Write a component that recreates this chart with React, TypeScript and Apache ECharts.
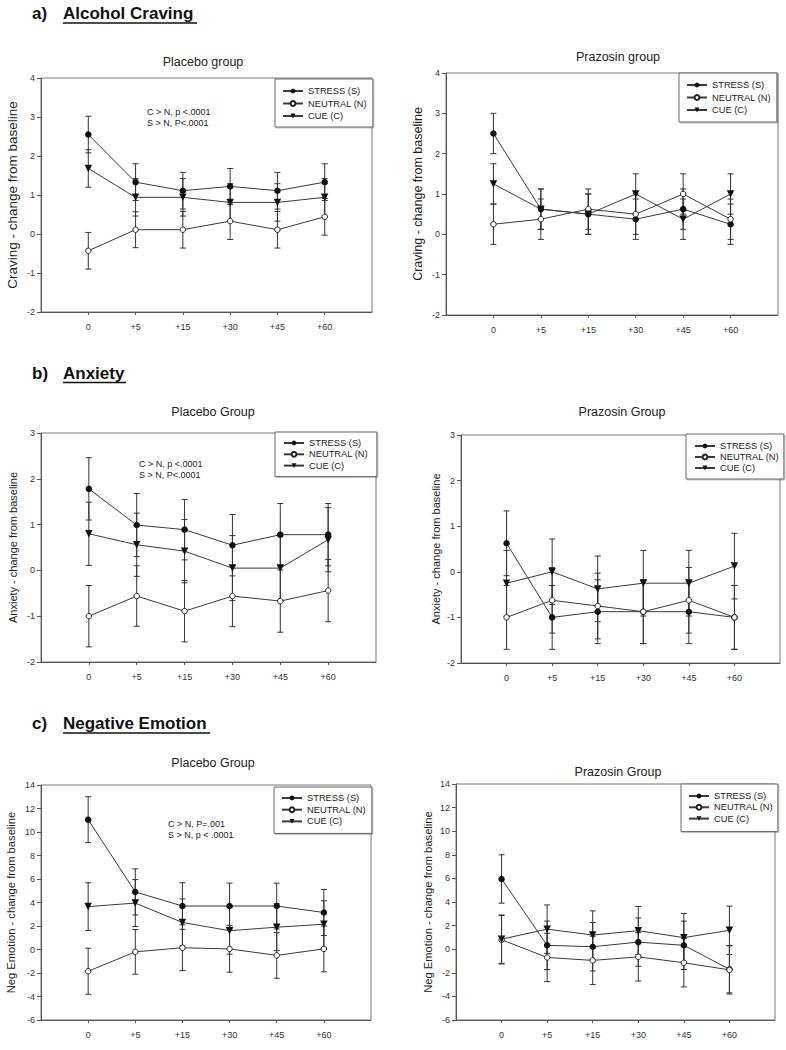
import { useEffect, useRef } from 'react';
import * as echarts from 'echarts';

// ---------- data ----------
const timepoints = ['0', '+5', '+15', '+30', '+45', '+60'];
const seriesNames = ['STRESS (S)', 'NEUTRAL (N)', 'CUE (C)'];

// a) Alcohol craving
const cravingPlaceboStress = [2.55, 1.33, 1.11, 1.22, 1.11, 1.33];
const cravingPlaceboNeutral = [-0.43, 0.11, 0.11, 0.33, 0.11, 0.44];
const cravingPlaceboCue = [1.68, 0.94, 0.94, 0.81, 0.81, 0.94];
const cravingPlaceboStressErr = [0.47, 0.47, 0.47, 0.46, 0.47, 0.47];
const cravingPlaceboNeutralErr = [0.47, 0.46, 0.47, 0.47, 0.47, 0.47];
const cravingPlaceboCueErr = [0.48, 0.48, 0.48, 0.48, 0.48, 0.48];

const cravingPrazosinStress = [2.5, 0.625, 0.5, 0.375, 0.625, 0.25];
const cravingPrazosinNeutral = [0.25, 0.375, 0.625, 0.5, 1.0, 0.375];
const cravingPrazosinCue = [1.25, 0.625, 0.5, 1.0, 0.375, 1.0];
const cravingPrazosinStressErr = [0.5, 0.5, 0.5, 0.5, 0.5, 0.5];
const cravingPrazosinNeutralErr = [0.5, 0.5, 0.5, 0.5, 0.5, 0.5];
const cravingPrazosinCueErr = [0.5, 0.5, 0.5, 0.5, 0.5, 0.5];

// b) Anxiety
const anxietyPlaceboStress = [1.78, 0.99, 0.89, 0.55, 0.78, 0.78];
const anxietyPlaceboNeutral = [-1.0, -0.56, -0.89, -0.56, -0.67, -0.44];
const anxietyPlaceboCue = [0.8, 0.56, 0.42, 0.05, 0.05, 0.67];
const anxietyPlaceboStressErr = [0.68, 0.69, 0.66, 0.67, 0.68, 0.68];
const anxietyPlaceboNeutralErr = [0.67, 0.66, 0.67, 0.67, 0.68, 0.68];
const anxietyPlaceboCueErr = [0.69, 0.69, 0.69, 0.71, 0.7, 0.7];

const anxietyPrazosinStress = [0.625, -1.0, -0.875, -0.875, -0.875, -1.0];
const anxietyPrazosinNeutral = [-1.0, -0.625, -0.75, -0.875, -0.625, -1.0];
const anxietyPrazosinCue = [-0.25, 0.0, -0.375, -0.25, -0.25, 0.125];
const anxietyPrazosinStressErr = [0.71, 0.7, 0.7, 0.7, 0.7, 0.7];
const anxietyPrazosinNeutralErr = [0.7, 0.72, 0.72, 0.7, 0.72, 0.7];
const anxietyPrazosinCueErr = [0.72, 0.72, 0.72, 0.72, 0.72, 0.72];

// c) Negative emotion
const negPlaceboStress = [11.05, 4.9, 3.7, 3.7, 3.7, 3.15];
const negPlaceboNeutral = [-1.85, -0.2, 0.15, 0.05, -0.5, 0.05];
const negPlaceboCue = [3.65, 3.95, 2.3, 1.6, 1.9, 2.15];
const negPlaceboStressErr = [1.95, 1.96, 1.98, 1.95, 1.95, 1.96];
const negPlaceboNeutralErr = [1.96, 1.9, 1.95, 1.98, 1.95, 1.95];
const negPlaceboCueErr = [2.03, 2.0, 2.0, 2.0, 2.0, 2.0];

const negPrazosinStress = [5.95, 0.33, 0.21, 0.6, 0.33, -1.7];
const negPrazosinNeutral = [0.8, -0.7, -0.95, -0.65, -1.15, -1.75];
const negPrazosinCue = [0.85, 1.7, 1.2, 1.57, 0.98, 1.6];
const negPrazosinStressErr = [2.05, 2.05, 2.05, 2.05, 2.05, 2.0];
const negPrazosinNeutralErr = [2.05, 2.05, 2.05, 2.05, 2.05, 2.05];
const negPrazosinCueErr = [2.05, 2.05, 2.05, 2.05, 2.05, 2.05];

// y-axis tick ranges
const cravingTicks = { min: -2, max: 4, interval: 1 };
const anxietyTicks = { min: -2, max: 3, interval: 1 };
const negTicks = { min: -6, max: 14, interval: 2 };

// ---------- layout ----------
const FONT = '"Liberation Sans", Arial, Helvetica, sans-serif';
const INK = '#222';
const LINE = '#3a3a3a';

type PanelCfg = {
  grid: { left: number; top: number; width: number; height: number };
  ticks: { min: number; max: number; interval: number };
  yName: string;
  yNameSize: number;
  nameGap: number;
  values: number[][];
  errors: number[][];
  legend: { left: number; top: number; padding: number[]; gap: number };
};

const panels: PanelCfg[] = [
  {
    grid: { left: 41, top: 78, width: 331, height: 234 },
    ticks: cravingTicks,
    yName: 'Craving - change from baseline',
    yNameSize: 13.5,
    nameGap: 22,
    values: [cravingPlaceboStress, cravingPlaceboNeutral, cravingPlaceboCue],
    errors: [cravingPlaceboStressErr, cravingPlaceboNeutralErr, cravingPlaceboCueErr],
    legend: { left: 275, top: 79, padding: [7, 6, 6, 7], gap: 2.5 },
  },
  {
    grid: { left: 446, top: 73, width: 332, height: 242 },
    ticks: cravingTicks,
    yName: 'Craving - change from baseline',
    yNameSize: 12.5,
    nameGap: 22,
    values: [cravingPrazosinStress, cravingPrazosinNeutral, cravingPrazosinCue],
    errors: [cravingPrazosinStressErr, cravingPrazosinNeutralErr, cravingPrazosinCueErr],
    legend: { left: 679, top: 73, padding: [7, 6, 7, 7], gap: 2.5 },
  },
  {
    grid: { left: 41, top: 433, width: 335, height: 229 },
    ticks: anxietyTicks,
    yName: 'Anxiety - change from baseline',
    yNameSize: 11,
    nameGap: 23,
    values: [anxietyPlaceboStress, anxietyPlaceboNeutral, anxietyPlaceboCue],
    errors: [anxietyPlaceboStressErr, anxietyPlaceboNeutralErr, anxietyPlaceboCueErr],
    legend: { left: 275, top: 432, padding: [6, 9, 6, 8], gap: 1.3 },
  },
  {
    grid: { left: 461, top: 435, width: 319, height: 228 },
    ticks: anxietyTicks,
    yName: 'Anxiety - change from baseline',
    yNameSize: 11,
    nameGap: 20,
    values: [anxietyPrazosinStress, anxietyPrazosinNeutral, anxietyPrazosinCue],
    errors: [anxietyPrazosinStressErr, anxietyPrazosinNeutralErr, anxietyPrazosinCueErr],
    legend: { left: 686, top: 434, padding: [7, 5, 6, 8], gap: 1 },
  },
  {
    grid: { left: 41, top: 785, width: 330, height: 235 },
    ticks: negTicks,
    yName: 'Neg Emotion - change from baseline',
    yNameSize: 11.2,
    nameGap: 24.5,
    values: [negPlaceboStress, negPlaceboNeutral, negPlaceboCue],
    errors: [negPlaceboStressErr, negPlaceboNeutralErr, negPlaceboCueErr],
    legend: { left: 274, top: 787, padding: [6, 6, 7, 7], gap: 1.7 },
  },
  {
    grid: { left: 456, top: 784, width: 319, height: 236 },
    ticks: negTicks,
    yName: 'Neg Emotion - change from baseline',
    yNameSize: 11.2,
    nameGap: 23,
    values: [negPrazosinStress, negPrazosinNeutral, negPrazosinCue],
    errors: [negPrazosinStressErr, negPrazosinNeutralErr, negPrazosinCueErr],
    legend: { left: 681, top: 784, padding: [7, 5, 8, 7], gap: 1.3 },
  },
];

const panelTitles = [
  { text: 'Placebo group', x: 203, y: 62 },
  { text: 'Prazosin group', x: 618, y: 57 },
  { text: 'Placebo Group', x: 213, y: 412 },
  { text: 'Prazosin Group', x: 622, y: 412 },
  { text: 'Placebo Group', x: 213, y: 763 },
  { text: 'Prazosin Group', x: 618, y: 772 },
];

const sections = [
  { label: 'a)', text: 'Alcohol Craving', y: 13, underlineY: 23, underlineEnd: 197 },
  { label: 'b)', text: 'Anxiety', y: 373, underlineY: 382.5, underlineEnd: 126 },
  { label: 'c)', text: 'Negative Emotion', y: 723, underlineY: 733, underlineEnd: 210 },
];

const annotations = [
  { lines: ['C > N, p <.0001', 'S > N, P<.0001'], x: 147, y: 111.5, step: 11 },
  { lines: ['C > N, p <.0001', 'S > N, P<.0001'], x: 139, y: 464, step: 10.5 },
  { lines: ['C > N, P=.001', 'S > N, p < .0001'], x: 168, y: 824, step: 11 },
];

const symbols = [
  { symbol: 'circle', size: 6.5, rotate: 0, fill: '#111', border: '#111', bw: 0 },
  { symbol: 'circle', size: 5.5, rotate: 0, fill: '#fff', border: '#222', bw: 1 },
  { symbol: 'triangle', size: 7.5, rotate: 180, fill: '#111', border: '#111', bw: 0 },
];

function buildOption() {
  const grid: any[] = [];
  const xAxis: any[] = [];
  const yAxis: any[] = [];
  const series: any[] = [];
  const legend: any[] = [];

  panels.forEach((p, pi) => {
    grid.push({
      ...p.grid,
      show: true,
      borderColor: '#777',
      borderWidth: 1,
      backgroundColor: 'transparent',
    });
    xAxis.push({
      type: 'value',
      gridIndex: pi,
      min: -1,
      max: 6,
      interval: 1,
      splitLine: { show: false },
      axisLine: { show: true, onZero: false, lineStyle: { color: '#555', width: 1 } },
      axisTick: { show: true, length: 3, lineStyle: { color: '#555' }, customValues: [0, 1, 2, 3, 4, 5] },
      axisLabel: {
        customValues: [0, 1, 2, 3, 4, 5],
        margin: 10,
        fontSize: 9,
        fontFamily: FONT,
        color: '#333',
        formatter: (v: number) => (v >= 0 && v < timepoints.length ? timepoints[v] : ''),
      },
    });
    yAxis.push({
      type: 'value',
      gridIndex: pi,
      min: p.ticks.min,
      max: p.ticks.max,
      interval: p.ticks.interval,
      name: p.yName,
      nameLocation: 'middle',
      nameRotate: 90,
      nameGap: p.nameGap,
      nameTextStyle: { fontSize: p.yNameSize, fontFamily: FONT, color: INK },
      splitLine: { show: false },
      axisLine: { show: true, onZero: false, lineStyle: { color: '#555', width: 1 } },
      axisTick: { show: true, length: 4, lineStyle: { color: '#555' } },
      axisLabel: { margin: 6, fontSize: 9, fontFamily: FONT, color: '#333' },
    });

    p.values.forEach((vals, si) => {
      const errs = p.errors[si];
      series.push({
        type: 'custom',
        name: 'err-' + pi + '-' + si,
        xAxisIndex: pi,
        yAxisIndex: pi,
        z: 1,
        silent: true,
        encode: { x: 0, y: 1 },
        data: vals.map((v, i) => [i, v, errs[i]]),
        renderItem: (_params: any, api: any) => {
          const x = api.value(0);
          const y = api.value(1);
          const e = api.value(2);
          const hi = api.coord([x, y + e]);
          const lo = api.coord([x, y - e]);
          const cw = 3;
          const st = { stroke: '#333', lineWidth: 1 };
          return {
            type: 'group',
            children: [
              { type: 'line', shape: { x1: hi[0], y1: hi[1], x2: lo[0], y2: lo[1] }, style: st },
              { type: 'line', shape: { x1: hi[0] - cw, y1: hi[1], x2: hi[0] + cw, y2: hi[1] }, style: st },
              { type: 'line', shape: { x1: lo[0] - cw, y1: lo[1], x2: lo[0] + cw, y2: lo[1] }, style: st },
            ],
          };
        },
      });
    });

    p.values.forEach((vals, si) => {
      const s = symbols[si];
      series.push({
        type: 'line',
        name: seriesNames[si],
        xAxisIndex: pi,
        yAxisIndex: pi,
        z: 3,
        data: vals.map((v, i) => [i, v]),
        symbol: s.symbol,
        symbolSize: s.size,
        symbolRotate: s.rotate,
        showAllSymbol: true,
        lineStyle: { color: LINE, width: 1 },
        itemStyle: { color: s.fill, borderColor: s.border, borderWidth: s.bw, opacity: 1 },
        emphasis: { disabled: true },
      });
    });

    legend.push({
      show: true,
      orient: 'vertical',
      left: p.legend.left,
      top: p.legend.top,
      padding: p.legend.padding,
      itemGap: p.legend.gap,
      itemWidth: 20,
      itemHeight: 6,
      selectedMode: false,
      borderColor: '#666',
      borderWidth: 1,
      borderRadius: 0,
      backgroundColor: '#fff',
      shadowColor: 'rgba(0,0,0,0.25)',
      shadowOffsetX: 1,
      shadowOffsetY: 1,
      shadowBlur: 0,
      data: seriesNames,
      textStyle: { fontSize: 9.3, lineHeight: 10, fontFamily: FONT, color: INK },
    });
  });

  const graphic: any[] = [];
  panelTitles.forEach((t) => {
    graphic.push({
      type: 'text',
      x: t.x,
      y: t.y,
      style: {
        text: t.text,
        fontSize: 12.5,
        fontFamily: FONT,
        fill: INK,
        textAlign: 'center',
        textVerticalAlign: 'middle',
      },
    });
  });
  sections.forEach((s) => {
    graphic.push({
      type: 'text',
      x: 32,
      y: s.y,
      style: { text: s.label, fontSize: 17, fontWeight: 'bold', fontFamily: FONT, fill: '#111', textVerticalAlign: 'middle' },
    });
    graphic.push({
      type: 'text',
      x: 63,
      y: s.y,
      style: { text: s.text, fontSize: 17, fontWeight: 'bold', fontFamily: FONT, fill: '#111', textVerticalAlign: 'middle' },
    });
    graphic.push({
      type: 'line',
      shape: { x1: 63, y1: s.underlineY, x2: s.underlineEnd, y2: s.underlineY },
      style: { stroke: '#111', lineWidth: 1.6 },
    });
  });
  annotations.forEach((a) => {
    a.lines.forEach((ln, li) => {
      graphic.push({
        type: 'text',
        x: a.x,
        y: a.y + li * a.step,
        style: { text: ln, fontSize: 9, fontFamily: FONT, fill: INK, textVerticalAlign: 'middle' },
      });
    });
  });

  return {
    animation: false,
    backgroundColor: '#fff',
    textStyle: { fontFamily: FONT },
    grid,
    xAxis,
    yAxis,
    series,
    legend,
    graphic,
  };
}

export default function App() {
  const ref = useRef<HTMLDivElement>(null);
  useEffect(() => {
    if (!ref.current) return;
    const chart = echarts.init(ref.current, undefined, { renderer: 'svg' });
    chart.setOption(buildOption() as any);
    return () => chart.dispose();
  }, []);
  return (
    <div
      ref={ref}
      style={{ position: 'absolute', left: 0, top: 0, width: 786, height: 1050, background: '#fff' }}
    />
  );
}
